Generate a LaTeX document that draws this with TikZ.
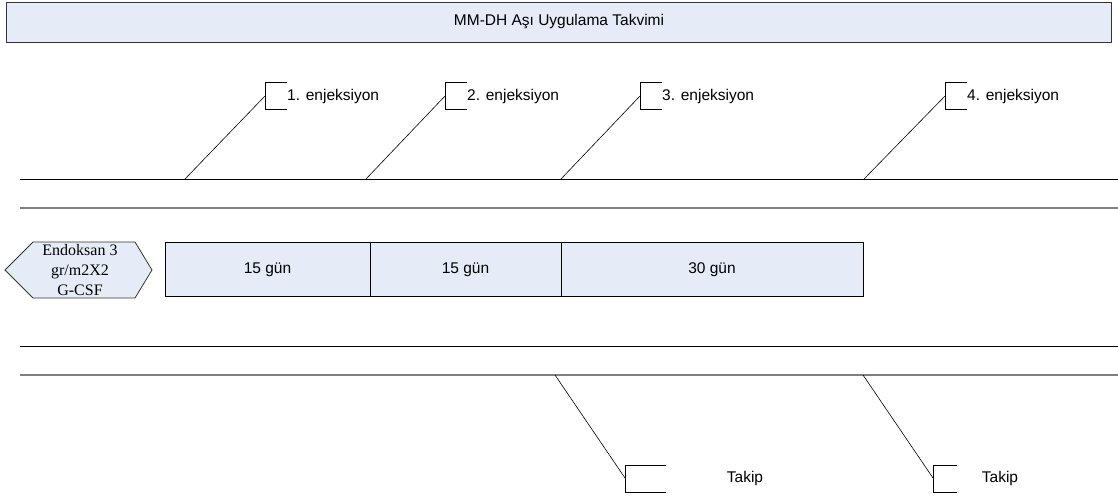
\documentclass[tikz,border=0pt]{standalone}
\usepackage{fontspec}
\setmainfont{Liberation Sans}
\newfontfamily\timesfont{Liberation Serif}
\definecolor{boxfill}{HTML}{E6ECF7}
\definecolor{bandgray}{HTML}{808080}
\begin{document}
\begin{tikzpicture}[x=1pt,y=-1pt,
  txt/.style={font=\fontsize{15.5}{19}\selectfont, inner sep=0pt},
  period/.style={draw=black, fill=boxfill, line width=0.8pt, minimum height=54pt, inner sep=0pt, font=\fontsize{15.5}{19}\selectfont},
  leader/.style={draw=black, line width=0.6pt},
  bracket/.style={draw=black, line width=0.6pt},
  blackband/.style={draw=black, line width=1pt},
  grayband/.style={draw=bandgray, line width=2pt}]
\useasboundingbox (0,0) rectangle (1118,495);
% title
\node[draw=black!80, fill=boxfill, line width=0.8pt, minimum width=1105pt, minimum height=40pt, inner sep=0pt, font=\fontsize{15.5}{19}\selectfont] (title) at (559,22) {MM-DH Aşı Uygulama Takvimi};
% band lines
\draw[blackband] (20,179) -- (1118,179);
\draw[grayband] (20,208) -- (1118,208);
\draw[blackband] (20,346) -- (1118,346);
\draw[grayband] (20,375) -- (1118,375);
% hexagon
\coordinate (h1) at (5,270);
\coordinate (h2) at (33,242);
\coordinate (h3) at (135,242);
\coordinate (h4) at (152,270);
\coordinate (h5) at (135,298);
\coordinate (h6) at (33,298);
\draw[fill=boxfill, draw=black!80, line width=0.8pt] (h1) -- (h2) -- (h3) -- (h4) -- (h5) -- (h6) -- cycle;
\node[align=center, font=\timesfont\fontsize{16}{20}\selectfont, inner sep=0pt] (hex) at (80,270) {Endoksan 3\\gr/m2X2\\G-CSF};
% period boxes
\node[period, minimum width=205pt] (p1) at (267.5,269.5) {15 gün};
\node[period, minimum width=191pt] (p2) at (465.5,269.5) {15 gün};
\node[period, minimum width=302pt] (p3) at (712,269.5) {30 gün};
% top callouts
\foreach \i/\lx/\bx in {1/185/265, 2/366/445, 3/561/640, 4/864/945} {
  \coordinate (s\i) at (\lx,179);
  \coordinate (b\i) at (\bx,96);
  \draw[leader] (s\i) -- (b\i);
  \draw[bracket] (\bx+22,82) -- (\bx,82) -- (\bx,109) -- (\bx+22,109);
  \node[txt, anchor=west] (t\i) at (\bx+22,96) {\i. enjeksiyon};
}
% bottom callouts
\coordinate (u1) at (555,375);
\coordinate (c1) at (625,478);
\draw[leader] (u1) -- (c1);
\draw[bracket] (666,465) -- (625,465) -- (625,492) -- (666,492);
\node[txt] (k1) at (745,478) {Takip};
\coordinate (u2) at (863,375);
\coordinate (c2) at (933,478);
\draw[leader] (u2) -- (c2);
\draw[bracket] (957,465) -- (933,465) -- (933,492) -- (957,492);
\node[txt] (k2) at (1000,478) {Takip};
\end{tikzpicture}
\end{document}
